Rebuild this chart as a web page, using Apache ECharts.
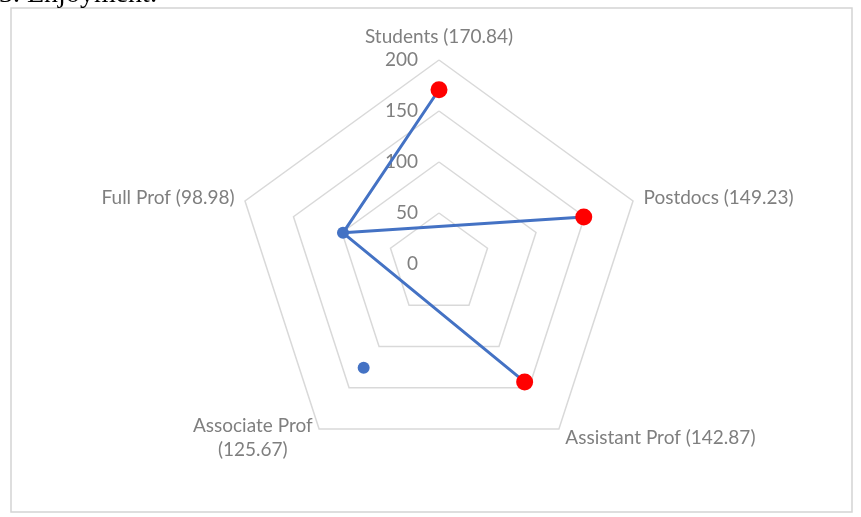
<!DOCTYPE html>
<html><head><meta charset="utf-8">
<script src="https://cdn.jsdelivr.net/npm/echarts@6/dist/echarts.min.js"></script>
<style>html,body{margin:0;padding:0;background:#fff;overflow:hidden}#c{width:861px;height:517px}</style>
</head><body><div id="c"></div>
<script>
// Categories clockwise from the top of the chart
const categories = ['Students', 'Postdocs', 'Assistant Prof', 'Associate Prof', 'Full Prof'];
const values = [170.84, 149.23, 142.87, 125.67, 98.98];
const tickValues = [0, 50, 100, 150, 200];
// Order in which the blue line joins the points (as drawn in the original)
const linePath = [0, 4, 1, 4, 2];
// Points drawn with the large red marker
const highlighted = ['Students', 'Postdocs', 'Assistant Prof'];
const titleText = '3. Enjoyment:';

const CENTER = [439, 264];
const RADIUS = 204;
const FONT = 'Lato, "Open Sans", sans-serif';
const GREY = '#7f7f7f';
const BLUE = '#4472C4';

// radar draws indicators counter-clockwise from the top
const radarOrder = [0, 4, 3, 2, 1];
const indicator = radarOrder.map((i, k) => {
  const ind = { name: categories[i], min: tickValues[0], max: tickValues[tickValues.length - 1] };
  if (k === 0) ind.axisLabel = { show: true };
  return ind;
});
const valueOf = {};
categories.forEach((c, i) => valueOf[c] = values[i]);

const chart = echarts.init(document.getElementById('c'));
chart.setOption({
  animation: false,
  backgroundColor: '#fff',
  graphic: [
    { type: 'rect', shape: { x: 11, y: 8, width: 841, height: 504 }, style: { fill: 'none', stroke: '#d4d4d4', lineWidth: 1.5 }, silent: true },
    { type: 'text', x: -1, y: 9, style: { text: titleText, font: '28px "Liberation Serif", serif', fill: '#000', verticalAlign: 'bottom' }, silent: true }
  ],
  radar: {
    center: CENTER,
    radius: RADIUS,
    startAngle: 90,
    shape: 'polygon',
    splitNumber: tickValues.length - 1,
    indicator: indicator,
    nameGap: 11,
    axisName: {
      color: GREY,
      formatter: function (name) {
        const v = '(' + valueOf[name].toFixed(2) + ')';
        return name === 'Associate Prof' ? '{n|' + name + '}\n{n|' + v + '}' : '{n|' + name + ' ' + v + '}';
      },
      rich: { n: { fontFamily: FONT, fontSize: 19, color: GREY, align: 'center', lineHeight: 24 } }
    },
    axisLine: { show: false },
    axisTick: { show: false },
    axisLabel: { show: false, margin: 21, color: GREY, fontFamily: FONT, fontSize: 19 },
    splitLine: { lineStyle: { color: '#d9d9d9', width: 1.5 } },
    splitArea: { show: false }
  },
  polar: { center: CENTER, radius: RADIUS },
  angleAxis: {
    // band centres: shift the start by half a band so the first category sits at the top
    type: 'category', data: categories, boundaryGap: true, startAngle: 90 + 180 / categories.length,
    axisLine: { show: false }, axisTick: { show: false }, axisLabel: { show: false }, splitLine: { show: false }
  },
  radiusAxis: {
    type: 'value', min: tickValues[0], max: tickValues[tickValues.length - 1],
    axisLine: { show: false }, axisTick: { show: false }, axisLabel: { show: false }, splitLine: { show: false }
  },
  series: [
    {
      type: 'line', coordinateSystem: 'polar', showSymbol: false, z: 2, clip: false,
      lineStyle: { color: BLUE, width: 3 },
      data: linePath.map(i => [values[i], categories[i]])
    },
    {
      type: 'scatter', coordinateSystem: 'polar', z: 3, clip: false,
      data: categories.map((c, i) => {
        const hi = highlighted.indexOf(c) >= 0;
        return { value: [values[i], c], symbolSize: hi ? 17 : 12, itemStyle: { color: hi ? '#FF0000' : BLUE, opacity: 1 } };
      })
    }
  ]
});
</script></body></html>
